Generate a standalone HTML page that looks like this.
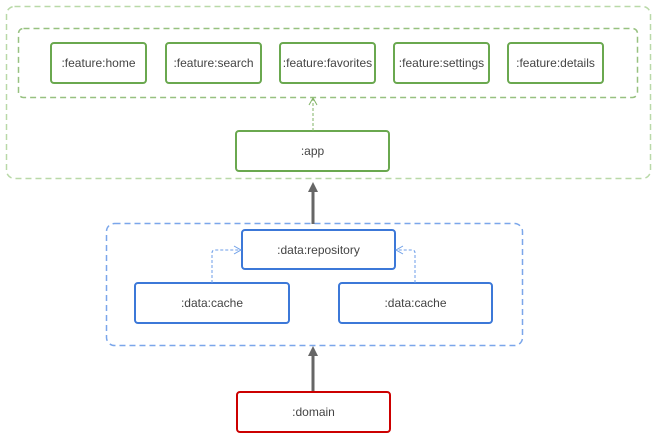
<!DOCTYPE html>
<html><head><style>body{margin:0;background:#fff}</style></head><body>
<svg width="655" height="437" xmlns="http://www.w3.org/2000/svg" font-family="Liberation Sans, sans-serif" font-size="12" fill="none">
<defs>
<marker id="o" markerWidth="10" markerHeight="10" refX="8" refY="5" orient="auto" markerUnits="userSpaceOnUse"><path d="M1,1 L8,5 L1,9" stroke-width="1" stroke="context-stroke"/></marker>
<marker id="og" markerWidth="10" markerHeight="10" refX="8" refY="5" orient="auto" markerUnits="userSpaceOnUse"><path d="M1,1 L8,5 L1,9" stroke="#82b366" stroke-width="1"/></marker>
<marker id="ob" markerWidth="10" markerHeight="10" refX="8" refY="5" orient="auto" markerUnits="userSpaceOnUse"><path d="M1,1 L8,5 L1,9" stroke="#6c9ee8" stroke-width="1"/></marker>
<marker id="f" markerWidth="12" markerHeight="12" refX="6" refY="6" orient="auto" markerUnits="userSpaceOnUse"><path d="M0,1 L10,6 L0,11 Z" fill="#666"/></marker>
</defs>
<rect x="6.5" y="6.5" width="644" height="172" rx="8" stroke="#b9d9a8" stroke-width="1.5" stroke-dasharray="6 4"/>
<rect x="18.5" y="28.5" width="619" height="69" rx="5" stroke="#97c180" stroke-width="1.5" stroke-dasharray="6 4"/>
<g stroke="#6aa84f" stroke-width="2">
<rect x="51" y="43" width="95" height="40" rx="3"/>
<rect x="166" y="43" width="95" height="40" rx="3"/>
<rect x="280" y="43" width="95" height="40" rx="3"/>
<rect x="394" y="43" width="95" height="40" rx="3"/>
<rect x="508" y="43" width="95" height="40" rx="3"/>
<rect x="236" y="131" width="153" height="40" rx="3"/>
</g>
<line x1="313" y1="131" x2="313" y2="98" stroke="#82b366" stroke-dasharray="3 2" marker-end="url(#og)"/>
<line x1="313" y1="224" x2="313" y2="186" stroke="#666" stroke-width="3" marker-end="url(#f)"/>
<rect x="106.5" y="223.5" width="416" height="122" rx="8" stroke="#7aa6ea" stroke-width="1.5" stroke-dasharray="6 4"/>
<g stroke="#3c78d8" stroke-width="2">
<rect x="242" y="230" width="153" height="39" rx="3"/>
<rect x="135" y="283" width="154" height="40" rx="3"/>
<rect x="339" y="283" width="153" height="40" rx="3"/>
</g>
<path d="M212,283 V253 Q212,250 215,250 H241" stroke="#6c9ee8" stroke-dasharray="3 2" marker-end="url(#ob)"/>
<path d="M415,283 V253 Q415,250 412,250 H396" stroke="#6c9ee8" stroke-dasharray="3 2" marker-end="url(#ob)"/>
<line x1="313" y1="392" x2="313" y2="350" stroke="#666" stroke-width="3" marker-end="url(#f)"/>
<rect x="237" y="392" width="153" height="40" rx="3" stroke="#cc0000" stroke-width="2"/>
<g fill="#444" text-anchor="middle">
<text x="98.5" y="67">:feature:home</text>
<text x="213.5" y="67">:feature:search</text>
<text x="327.5" y="67">:feature:favorites</text>
<text x="441.5" y="67">:feature:settings</text>
<text x="555.5" y="67">:feature:details</text>
<text x="312.5" y="155">:app</text>
<text x="318.5" y="254">:data:repository</text>
<text x="212" y="307">:data:cache</text>
<text x="415.5" y="307">:data:cache</text>
<text x="313.5" y="416">:domain</text>
</g>
</svg>
</body></html>
